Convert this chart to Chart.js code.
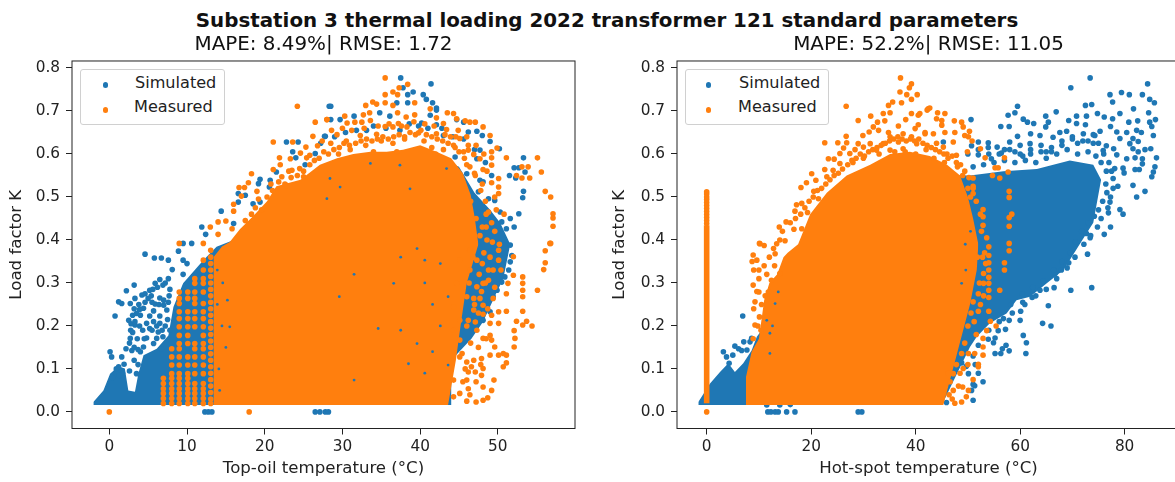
<!DOCTYPE html>
<html>
<head>
<meta charset="utf-8">
<script src="https://cdn.jsdelivr.net/npm/chart.js@4"></script>
<style>
  html, body { margin: 0; padding: 0; background: #fff; overflow: hidden; width: 1175px; height: 482px; }
  body { position: relative; font-family: "DejaVu Sans", sans-serif; color: #111; }
  canvas { position: absolute; top: 0; }
  #suptitle { position: absolute; left: 0; width: 1214px; top: 10px; text-align: center; font-weight: bold; font-size: 19.85px; line-height: 22px; white-space: nowrap; }
  .legend { position: absolute; top: 69px; height: 54px; border: 1px solid #d0d0d0; border-radius: 3px; background: #fff; box-sizing: content-box; }
  .legend span { position: absolute; font-size: 16.1px; line-height: 20px; color: #222; white-space: nowrap; }
  .legend i { position: absolute; width: 5.6px; height: 5.6px; border-radius: 50%; }
</style>
</head>
<body>
<div id="suptitle">Substation 3 thermal loading 2022 transformer 121 standard parameters</div>
<canvas id="topOilChart" width="648" height="482" style="left:0"></canvas>
<canvas id="hotSpotChart" width="650" height="482" style="left:603px"></canvas>
<div class="legend" id="legend1" style="left:80px;width:143px"></div>
<div class="legend" id="legend2" style="left:685px;width:142px"></div>

<script>
const seriesNames = ["Simulated", "Measured"];
const seriesColors = ["#1f77b4", "#ff7f0e"];
const yTicks = [0, 0.1, 0.2, 0.3, 0.4, 0.5, 0.6, 0.7, 0.8];
const topOilXTicks = [0, 10, 20, 30, 40, 50];
const hotSpotXTicks = [0, 20, 40, 60, 80];

// top-oil panel: outline of the solid blue mass
const topOilSimTop = [[-2.05,.023],[-.76,.05],[.1,.089],[1.17,.106],[2,.101],[2.45,.05],[3.3,.047],[3.74,.089],[4.4,.132],[6.1,.147],[7.6,.178],[8.25,.244],[9.5,.299],[10.8,.326],[12.1,.353],[13.8,.384],[16,.4],[20,.47],[25,.53],[30,.585],[35,.6],[40,.61],[45,.57],[47,.51],[49,.47],[50.3,.44],[51.6,.39]];
const topOilSimBottom = [[-2.05,.016],[44,.016],[44,.12],[46.6,.17],[48.1,.21],[49.9,.28],[50.7,.31],[51.6,.39]];
const topOilSimPoints = [[28.3,.711],[22.8,.628],[24.3,.628],[27.8,.641],[23.6,.605],[24,.591],[26.5,.601],[20.7,.539],[19.4,.541],[19.2,.531],[16.6,.508],[20.6,.523],[17.5,.504],[16.6,.488],[14.4,.467],[11.9,.43],[12.4,.413],[16,.438],[18.5,.484],[19.4,.488],[21.5,.558],[25.2,.575],[9.5,.392],[10.6,.392],
  [4.6,.367],[5.8,.358],[6.7,.358],[7.6,.353],[8.9,.374],[10,.345],[9.5,.353],[8.1,.331],[9.5,.32],[3.2,.295],[2.2,.282],[1.2,.256],[1.6,.252],[.74,.223],[2.7,.252],[3.3,.264],[4.2,.272],[5.2,.283],[5.9,.299],[6.5,.308],[7.6,.31],[5,.264],[5.9,.251],[7,.248],[7.4,.237],[4.4,.241],[3.5,.229],[4,.225],[5.2,.223],[6.5,.223],[2.5,.213],[4.8,.206],[6.5,.206],[3.3,.202],[2.75,.19],[5.2,.194],[6.3,.186],[2.7,.171],[4.8,.172],[6.1,.171],[2.15,.147],[2.9,.143],[.1,.14],[.3,.128],[1.6,.128],[1.9,.111],[1.2,.105],[3.5,.089],[4.4,.151],[5.7,.159],[6.7,.147],
  [5.6,.285],[6.2,.29],[6.9,.295],[7.2,.3],[4.6,.275],[5.4,.27],[4.6,.255],[5.5,.255],[3.8,.25],[3.2,.24],[3.9,.238],[6.5,.265],[7,.26],[7.6,.255],[7.7,.27],[7.8,.285],[6.4,.25],[5.7,.235],[3,.225],[2.8,.205],[3,.185],[2.6,.16],[3.2,.15],[3.7,.145],[4,.14],[3.2,.12],[2.6,.095],[1.7,.09],[1.3,.085],[.9,.1],[.4,.08],[3.7,.11],[7.2,.2],[7.5,.215],[7.8,.19],[6.9,.175],[5.5,.19],[5.7,.21],[4.3,.19],[4.5,.17],[3.6,.17],[3.9,.2],[3.3,.21],[6.8,.19],[6.1,.2],
  [12.3,0],[12.75,0],[13.2,0],[26.5,0],[27.1,0],[27.8,0],[28.2,0],
  [37.5,.777],[41.4,.763],[37.8,.754],[39.1,.744],[40.4,.738],[38.4,.738],[40.8,.727],[37,.719],[38.4,.719],[41.6,.719],[42.1,.707],[42.1,.702],[28.5,.711],[34.8,.696],[41.3,.69],[31.5,.688],[29.7,.68],[28.5,.68],[36.1,.688],[40.2,.672],[42.1,.668],[44.7,.68],[45.6,.674],[46.2,.651],[47.3,.653],[48,.643],[49,.629],[50.2,.612],[47.7,.609],[53.3,.591],[52.1,.568],[52.7,.568],[53.5,.558],[51.5,.55],[52.3,.544],[53.3,.513],[53.2,.498],[52.7,.461],[52.1,.43],[27.7,.641],[33.1,.655],[37.4,.655],[43,.643],[47.7,.539],[48.1,.535],[47.3,.589],[44.5,.593],[43.3,.566],[46,.554],[48.8,.496],[49.6,.492],[50.3,.465],[51.1,.426],[50.5,.442],[51.6,.45],[46.9,.458],[47.5,.512],
  [51.6,.388],[51.8,.364],[51.6,.349],[51.4,.33],[50.9,.314],[50.5,.302],[49.9,.283],[49.4,.268],[49,.233],[48.1,.213],
  [27.2,.625],[29,.64],[30.4,.65],[31.8,.655],[34,.665],[35.6,.66],[38.6,.67],[39.8,.665],[41,.66],[42.8,.66],[44.2,.64],[45.6,.635],[47,.61],[48.4,.58],[49.2,.55]];
// top-oil panel: outline of the solid orange mass
const topOilMeasuredTop = [[13.4,.36],[14.5,.385],[15.5,.395],[16.8,.425],[18.5,.455],[20.3,.49],[21.5,.525],[24.6,.54],[27.1,.575],[29.3,.59],[31.4,.6],[33.6,.605],[35.7,.605],[37.8,.61],[40,.62],[42.1,.605],[44,.59],[45.5,.555],[46.5,.505],[47,.455],[47.5,.39]];
const topOilMeasuredBottom = [[13.4,.016],[43.6,.016],[44.6,.12],[45.2,.2],[46,.3],[47.5,.39]];
// vertical runs of readings at the low-temperature edge
const topOilColumnX = [6.96, 8.03, 9, 10.1, 11, 12.1, 13.05];
const topOilColumnY = [
  [.078,.066,.054,.043,.031,.0195],
  [.147,.128,.109,.089,.078,.066,.054,.043,.031,.0195],
  [.279,.264,.252,.233,.217,.198,.178,.159,.147,.128,.109,.089,.078,.066,.054,.043,.031,.0195],
  [.279,.264,.233,.217,.198,.178,.159,.128,.109,.089,.078,.066,.054,.043,.031,.0195],
  [.31,.299,.279,.264,.252,.233,.217,.198,.159,.147,.128,.109,.089,.066,.054,.043,.031,.0195],
  [.353,.33,.31,.299,.279,.252,.233,.217,.198,.178,.159,.147,.128,.109,.089,.066,.054,.043,.031,.0195],
  [.376,.36,.345,.33,.315,.3,.285,.27,.255,.24,.225,.21,.195,.18,.165,.15,.135,.12,.105,.09,.075,.06,.045,.03,.0195]
];
const topOilMeasuredPoints = [[0,0],[18,0],[24.2,.711],[26.5,.674],[28,.68],[26.2,.641],[21.1,.628],[23.6,.628],[25.3,.616],[26.8,.619],[24.6,.602],[21.9,.591],[23.3,.589],[25.8,.597],[25.4,.591],[22,.575],[21.1,.564],[23.1,.56],[23.5,.562],[18.3,.554],[17.9,.533],[16.7,.522],[17.4,.522],[19,.513],[17,.502],[16,.483],[16,.467],[14,.442],[15,.444],[13,.43],[14,.413],[15.8,.426],[9,.392],[12.1,.392],[22.2,.547],[24.5,.566],[22.8,.527],[25,.547],
  [56.7,.392],[56.1,.375],[56.1,.347],[55.9,.331],[55.1,.283],[53.2,.314],[53.2,.299],[53.2,.283],[53.2,.268],[51.1,.234],[53.2,.234],[52.4,.211],[53.7,.211],[53.2,.202],[54.4,.2],[52.1,.189],[52.2,.171],[52.1,.151],[50.1,.233],[50.1,.206],[51.1,.275],[51.3,.299],[50.1,.132],[50.7,.136],[51.1,.132],[51.1,.114],[50.7,.105],[49.5,.074],[49.2,.05],[48.7,.033],[48.1,.027],[47.2,.023],[46,.025],[48.1,.058],[47.2,.07],[46,.074],[46.2,.054],[47.9,.085],[48.1,.101],[47.1,.093],[46.2,.093],[46,.116],[46.9,.12],[47.9,.124],[49,.132],[49.6,.151],[49,.178],[49.2,.167],[48.1,.171],[47.3,.19],[49,.206],[49.2,.225],[48.1,.227],[46.9,.237],[46.2,.213],[47.1,.209],[48.1,.248],[49.4,.264],[47.7,.264],[46.9,.264],[48.1,.299],[48.8,.306],[48.8,.33],[50.1,.353],[50.1,.376],[49.4,.33],[52,.318],[52,.361],[47.3,.353],[46.4,.33],[46.4,.376],[47.3,.291],[46,.268],[45.1,.213],[45.1,.167],[45.4,.136],[44.3,.074],[44.3,.035],[45.1,.043],[45.1,.128],[44.3,.19],[44.3,.244],[44.7,.299],[45.1,.353],
  [55.1,.591],[55.6,.558],[56.1,.513],[56.8,.5],[57.1,.461],[57.1,.451],[57.1,.432],[56.8,.392],[53.9,.57],[54.1,.544],[53.1,.57],[53.1,.544],[52.4,.55],[51.1,.591],[49.9,.614],[49.2,.605],[49.2,.591],[49.2,.574],[49.2,.533],[50.1,.543],[50.1,.523],[50.1,.508],[48.1,.564],[45.6,.605],[46.2,.609],[46.9,.599],[47.7,.589],[49,.643],[48.1,.663],[47.1,.674],[46.4,.674],[45.8,.677],[44.7,.682],[43.5,.696],[44.3,.694],[43,.671],[42.1,.684],[41.3,.705],[39.3,.719],[38.4,.762],[37.3,.754],[35.5,.777],[36.5,.744],[37.1,.738],[35.5,.738],[35.5,.719],[36.5,.713],[33.9,.721],[34.4,.716],[33,.713],[33.5,.696],[32.7,.691],[33.6,.678],[30.3,.688],[28,.68],[30.6,.672],[31.6,.674],[32.5,.674],[37.1,.696],[38.2,.686],[39.3,.691],[37.2,.671],[36.5,.663],[35.5,.664],[38.3,.663],[29.3,.645],[32.3,.643],[34.4,.646],[39.8,.649],[42.1,.647],[43.4,.657],[44.9,.655],[43.9,.64],[45.1,.636],[46.2,.62],
  [28.5,.625],[30.5,.63],[31,.61],[33,.62],[35,.63],[36.5,.625],[38,.635],[40.5,.63],[41.5,.615],[43,.61],[44.5,.615],[46,.575],[47,.555],[48,.53],[46.5,.49],[47.2,.45],[48,.43],[48.5,.46],[29.5,.6],[34,.605],[37,.605],[42,.6],
  [17.5,.445],[18.3,.46],[18.8,.475],[19.6,.47],[20.3,.5],[21,.515],[19.2,.495],[20.8,.53],[21.8,.535],[22.6,.53],[23.4,.545],[24.2,.55],[25,.56],[25.8,.575],[26.4,.585],[27,.59],[27.6,.605],[28.2,.6],[28.9,.61],[29.6,.615],[30.2,.625],[30.9,.62],[31.7,.625],[32.4,.63],[33.1,.635],[33.8,.63],[34.5,.635],[35.2,.64],[35.9,.635],[36.6,.64],[37.3,.645],[38,.64],[38.7,.65],[39.4,.645],[40.1,.655],[40.8,.645],[41.5,.64],[42.2,.635],[42.9,.63],[43.6,.625],[44.3,.62],[45,.605],[45.7,.59],[46.4,.57],[47.1,.55],[47.8,.515],[48.4,.49],[48.8,.465],[49.2,.44],[49.6,.42],[48.6,.4],[49.3,.395],[50.2,.39],[48.2,.37],[49,.36],[50.4,.33],[48,.345],[47.6,.32],[48.4,.3],[49.6,.29],[47.9,.28],[47,.25],[48.7,.24],[47.5,.23],[46.5,.16],[47.5,.15],[48.5,.17],[46.6,.105],[47.8,.11],[46.4,.04],[45.8,.1],[46,.2],[45.5,.07],[46.3,.3],[46.8,.36],[47.7,.41],[48.5,.43],
  [27.4,.63],[28.6,.655],[30,.66],[31.2,.655],[32.8,.66],[34.6,.665],[36,.67],[37.6,.665],[39.2,.675],[40.6,.67],[41.8,.665],[43.2,.645],[44.6,.64],[46,.64],[47.2,.62],[48.2,.6],[48.6,.56],[49.6,.5],[50.8,.46],[49.8,.47]];
const topOilSpecks = [[33.6,.578],[38.7,.519],[43.4,.566],[37.4,.574],[28.4,.543],[29.7,.523],[28,.496],[31.5,.32],[29.6,.268],[37.5,.36],[39.6,.38],[40.6,.353],[42.6,.345],[36.6,.299],[34.6,.194],[37.5,.19],[39.6,.159],[38.5,.112],[31.5,.074],[43.6,.268],[43.6,.109],[15.5,.198],[40.6,.3],[41.6,.25],[42.6,.2],[41.6,.14],[40.6,.09],[14.1,.1],[14.5,.2],[14.6,.3],[14.2,.05],[15,.15],[15.2,.26],[13.9,.25],[13.9,.33]];

// hot-spot panel
const hotSpotSimTop = [[-1.6,.023],[.64,.066],[2.55,.093],[4.15,.113],[5.4,.093],[7,.113],[8.6,.143],[9.6,.175],[11.5,.206],[12.8,.244],[14,.299],[15,.36],[17.5,.37],[25,.48],[35,.55],[45,.55],[50.4,.55],[56.8,.56],[63.2,.565],[69.5,.585],[74,.575],[75.5,.54]];
const hotSpotSimBottom = [[-1.6,.016],[45,.016],[50.4,.151],[51.7,.175],[54.2,.206],[57.4,.229],[59.3,.26],[61.9,.268],[65.1,.299],[68.3,.33],[71.4,.39],[74,.44],[75.5,.54]];
const hotSpotSimPoints = [[73.4,.777],[84.4,.763],[69.7,.754],[77.2,.738],[79.4,.743],[80.9,.738],[83.4,.738],[84.8,.727],[85.7,.719],[77.7,.721],[72.5,.713],[73.7,.715],[81.7,.705],[59.5,.711],[59,.696],[57.7,.69],[66.9,.698],[74.8,.694],[79.1,.694],[84.6,.696],[85.9,.68],[76.1,.686],[77.7,.682],[69.3,.678],[70.8,.688],[72.7,.688],[64.9,.688],[50.6,.68],[60.6,.681],[61.4,.674],[62.6,.671],[65.4,.674],[80.8,.674],[82.5,.677],[84.8,.674],[56.3,.664],[57.9,.664],[64.9,.663],[70.8,.671],[72.5,.668],[77.3,.664],[85.2,.664],[82.3,.655],[83.2,.65],[78.5,.651],[80.4,.65],[85.5,.643],[59.5,.641],[62,.647],[75.3,.653],[74,.645],[68.9,.653],[79.1,.636],[81.6,.636],[82.6,.629],[76.5,.619],[77.9,.612],[81,.624],[81.6,.612],[85,.612],[83.9,.61],[86.1,.591],[82.6,.605],[80.4,.589],[78.5,.598],[82,.591],[83.4,.589],[83.4,.577],[85.8,.57],[85.5,.558],[85.2,.547],[82,.564],[82.8,.564],[79.7,.567],[79.9,.556],[78.1,.566],[81.6,.527],[83.9,.513],[82.3,.5],[78.7,.525],[79.1,.471],[79.7,.46],[76.9,.463],[77.3,.43],[76.1,.413],[77.2,.488],[77.8,.543],[72.7,.415],[73.4,.405],
  [52,.628],[53.9,.626],[55.6,.616],[56.4,.602],[53.9,.615],[52,.598],[50.7,.619],[45.3,.628],[54.5,.589],[58,.628],[60,.62],[61.9,.624],[63.8,.643],[66.3,.639],[67.6,.65],[72.1,.647],[75.9,.608],[74.3,.643],[57,.61],[59,.605],[62,.61],[64,.62],[66,.615],[68,.63],[70,.64],[71,.625],[73,.63],[75,.625],[65,.605],[60.5,.595],
  [72.9,.367],[73.7,.289],[69.7,.283],[66.5,.289],[63.8,.283],[62.3,.266],[69.3,.347],[65.4,.247],[60.9,.25],[60.1,.234],[60,.213],[64.3,.206],[65.9,.2],[57.2,.192],[60.6,.178],[61.2,.161],[61.1,.136],[57.9,.142],[57.3,.155],[56.3,.136],[55.2,.136],[56.6,.147],[55.2,.172],[54.9,.161],[55.8,.189],[53.9,.169],[57.9,.213],[56.8,.217],[52.9,.07],[51,.027],[51.3,.061],[50.7,.05],[50.1,.089],[49.7,.106],[45.9,.022],[51,.064],[48.8,.114],[48.8,.299],[67.9,.33],[66.7,.322],
  [11.7,0],[12.3,0],[13.1,0],[13.7,0],[15.3,0],[16.9,0],[29,0],[29.7,0],[11.5,.016],[14,.016],[16,.017],
  [50,.6],[52,.61],[54,.6],[56,.6],[58,.61],[60,.6],[62,.6],[64,.605],[66,.605],[68,.62],[70,.635],[72,.63],[74,.625],[76,.6],[77,.58],[77.5,.56],[77.8,.52],[77.3,.5],[76.8,.475],[75.5,.45],[74.8,.43],[73.5,.41],[72.2,.39],[70.5,.36],[69,.335],[67,.31],[65,.285],[63,.27],[60.5,.255],[58.5,.23],[56,.21],[54,.19],[52,.155],[51,.13],[51.4,.11],[52,.09],
  [6.9,.223],[3.2,.14],[3.8,.128],[5,.132],[5.4,.153],[6.1,.147],[7.1,.163],[8.3,.163],[8.6,.171],[7.7,.144],[4.3,.113],[6.7,.143],
  [51,.57],[53,.575],[55,.58],[57,.585],[59,.58],[61,.585],[63,.58],[65,.59],[67,.6],[69,.61],[71,.6],[73,.605],[74.5,.595],[75.5,.58],[76.5,.56],[76.4,.53],[76.6,.51],[75.8,.49],[75,.47],[74.2,.455],[73,.44],[71.8,.42],[70.6,.395],[69.6,.37],[68,.35],[66.4,.33],[64.4,.305],[62.4,.29],[60.4,.275],[58.2,.25]];
const hotSpotMeasuredTop = [[7.5,.08],[8.6,.14],[10,.17],[11,.26],[12,.3],[13.5,.32],[14.7,.36],[15.5,.37],[17.5,.39],[19.8,.46],[23,.51],[26.8,.55],[31.3,.575],[35.1,.6],[38.9,.605],[42.7,.595],[46,.575],[48.5,.55],[50,.5],[51,.45],[52,.39]];
const hotSpotMeasuredBottom = [[7.5,.016],[45.3,.016],[47.8,.13],[50.4,.25],[51.7,.33],[52,.39]];
const hotSpotZeroLine = [[0,.02],[0,.434]];
const hotSpotMeasuredPoints = [[0,0],[0,.438],[0,.445],[0,.452],[0,.459],[0,.466],[0,.473],[0,.48],[0,.487],[0,.494],[0,.5],[0,.507],[0,.512],
  [37.1,.777],[39.2,.763],[38.8,.754],[37,.744],[38.3,.738],[40.3,.738],[39.2,.727],[37.3,.719],[35.6,.721],[34.8,.713],[26.7,.711],[42.4,.705],[33.8,.694],[35.1,.696],[39.2,.694],[40.5,.69],[31.4,.688],[29,.678],[34.1,.677],[32.7,.674],[38.1,.68],[36.7,.665],[31.9,.663],[40.5,.668],[39.9,.659],[31.1,.651],[32.9,.655],[34.8,.65],[29.9,.643],[26.7,.641],[35.1,.64],[37.6,.647],[39.2,.64],[41.8,.647],[22.6,.626],[25.1,.626],[26.8,.626],[29,.624],[31.3,.624],[33.8,.624],[36.7,.628],[40.2,.624],[26.2,.614],[28.4,.61],[30,.616],[32.5,.609],[25.5,.601],[23.3,.589],[24.4,.588],[27.4,.601],[35.1,.609],[37.6,.612],[22.6,.564],[24.2,.562],[25.5,.578],[20.1,.554],[19.1,.533],[20.9,.539],[23,.547],[18.05,.522],[20.5,.513],[21.4,.496],[18.2,.485],[17.2,.482],[16.9,.467],[19.3,.464],[15.2,.442],[13.9,.43],[16.7,.425],[18.2,.426],[15,.398],[10.2,.391],[13.4,.391],[11,.387],
  [42.7,.707],[42.2,.702],[44.2,.696],[45.6,.694],[40.8,.694],[44,.682],[45,.678],[47.4,.677],[48.8,.674],[45,.667],[49.1,.663],[50.3,.653],[41.8,.65],[43.4,.647],[45.6,.65],[47.5,.65],[49.4,.643],[50.1,.64],[50.8,.63],[52.4,.612],[49.9,.605],[47.2,.628],[45.3,.616],[47.8,.597],[53.3,.591],[57,.591],[55.2,.568],[55.8,.568],[54.7,.55],[57.7,.558],[56.1,.544],[51,.544],[51,.525],[51,.508],[57.9,.513],[57.9,.499],[58.4,.46],[57.9,.452],[57.9,.432],[57.9,.392],[52.9,.471],[52.9,.454],[52.9,.434],[53.6,.405],
  [57.9,.375],[57,.347],[57,.33],[56.1,.283],[54,.384],[54,.364],[54,.347],[54,.33],[54,.313],[54,.299],[54,.283],[54,.266],[54,.234],[53,.322],[53,.299],[52,.275],[52,.234],[51,.256],[54.3,.211],[55.4,.2],[53.6,.189],[52.9,.171],[52.9,.151],[52.9,.132],[52,.111],[52,.105],[51.3,.136],[51,.075],[49,.058],[50.1,.05],[49.7,.035],[48.8,.023],[47.5,.02],[47.2,.05],[46.6,.07],[47.2,.089],[49.1,.101],[50.1,.136],[48.8,.136],
  [10.1,.392],[8.9,.365],[9.6,.353],[8.9,.295],[10,.279],[9.25,.256],[10.1,.221],[9.25,.202],[12.4,.306],[11.8,.279],[13.1,.368],[14,.322],[10.5,.25],[11.2,.27],
  [44,.625],[46,.6],[42,.61],[40,.6],[38,.605],[36,.605],[33,.6],[30,.59],[28,.58],[48,.57],[49,.55],[50,.52],[43.5,.59],[45.5,.58],
  [14.5,.42],[16,.44],[17,.45],[18,.46],[18.8,.475],[19.6,.49],[20.4,.5],[21.2,.515],[22,.52],[22.8,.53],[23.6,.54],[24.4,.55],[25.2,.555],[26,.565],[27,.575],[27.8,.585],[28.6,.59],[29.4,.6],[30.2,.595],[31,.605],[31.8,.61],[32.6,.615],[33.4,.62],[34.2,.625],[35,.63],[35.8,.635],[36.6,.64],[37.4,.635],[38.2,.63],[39,.635],[39.8,.63],[40.6,.635],[41.4,.625],[42.2,.62],[43,.615],[43.8,.61],[44.6,.605],[45.4,.6],[46.2,.59],[47,.595],[47.8,.58],[48.6,.575],[49.4,.56],[50.2,.545],[51,.52],[50.5,.5],[51.6,.49],[52.4,.46],[52.6,.42],[53.2,.37],[53.4,.345],[52.8,.36],[53,.27],[52.2,.3],[51.8,.36],[52.4,.25],[51.2,.21],[51.6,.18],[50,.2],[50.6,.23],[49.4,.16],[50,.11],[48.5,.09],[48.2,.06],[47,.03],[46.4,.04],[46.2,.09],[47.8,.11],
  [9,.33],[10,.33],[11,.34],[12,.36],[12.8,.38],[14,.4],[13,.34],[11.5,.32],[10,.31],[8.7,.35],[9.6,.28],[9,.24],[9.8,.2],[8.9,.17],[10.4,.19]];
const hotSpotSpecks = [[12.1,.183],[13.1,.252],[13.7,.279],[11.5,.213],[12.1,.136],[12.6,.2],[48.8,.299],[49.5,.39],[50.5,.42],[49.6,.33]];

const axisColor = "#222";
const tickFont = { family: "DejaVu Sans", size: 15.3 };
const labelFont = { family: "DejaVu Sans", size: 16.6 };

const toXY = list => list.map(([x, y]) => ({ x, y }));

// matplotlib style closed frame
const framePlugin = {
  id: "frame",
  afterDraw(chart) {
    const { ctx, chartArea: a } = chart;
    ctx.save();
    ctx.strokeStyle = axisColor;
    ctx.lineWidth = 1;
    ctx.strokeRect(a.left, a.top, a.right - a.left, a.bottom - a.top);
    ctx.restore();
  }
};

function makeChart(id, p) {
  const points = (data, color, order, radius) => ({
    data: toXY(data), showLine: false, pointRadius: radius, pointHoverRadius: radius,
    pointBorderWidth: 0, pointBackgroundColor: color, backgroundColor: color, order
  });
  const outline = (data, color, order, fill) => ({
    data: toXY(data), showLine: true, pointRadius: 0, borderWidth: 0, borderColor: color,
    backgroundColor: color, fill, order, tension: 0
  });

  const datasets = [
    outline(p.simTop, seriesColors[0], 10, 1),
    outline(p.simBottom, seriesColors[0], 10, false),
    points(p.simPoints, seriesColors[0], 9, 2.8),
    outline(p.measuredTop, seriesColors[1], 8, 4),
    outline(p.measuredBottom, seriesColors[1], 8, false),
    points(p.specks, seriesColors[0], 7, 1.4),
    points(p.measuredPoints, seriesColors[1], 6, 2.8)
  ];
  if (p.zeroLine) {
    datasets.push({ data: toXY(p.zeroLine), showLine: true, pointRadius: 0, borderWidth: 5.6, borderColor: seriesColors[1], order: 5, fill: false });
  }

  return new Chart(document.getElementById(id), {
    type: "scatter",
    data: { datasets },
    options: {
      responsive: false,
      animation: false,
      events: [],
      layout: { padding: { left: 0, right: 73, top: 0, bottom: 0 } },
      plugins: {
        legend: { display: false },
        tooltip: { enabled: false },
        filler: { drawTime: "beforeDatasetDraw" },
        title: {
          display: true, text: p.title, color: "#111", fullSize: false,
          font: { family: "DejaVu Sans", size: 19.9, weight: "normal", lineHeight: 1.14 },
          padding: { top: 33.5, bottom: 4.8 }
        }
      },
      scales: {
        x: {
          type: "linear", min: p.xMin, max: p.xMax,
          afterBuildTicks: s => { s.ticks = p.xTicks.map(value => ({ value })); },
          afterFit: s => { s.height = 53.5; },
          ticks: { color: axisColor, font: tickFont, padding: 3, maxRotation: 0, autoSkip: false },
          grid: { drawOnChartArea: false, drawTicks: true, tickLength: 6, color: axisColor },
          border: { display: false },
          title: { display: true, text: p.xTitle, color: axisColor, font: labelFont, padding: { top: 0, bottom: 3 } }
        },
        y: {
          type: "linear", min: -0.0386, max: 0.8163,
          afterBuildTicks: s => { s.ticks = yTicks.map(value => ({ value })); },
          afterFit: s => { s.width = p.yWidth; },
          ticks: { color: axisColor, font: tickFont, padding: 6, autoSkip: false, callback: v => v.toFixed(1) },
          grid: { drawOnChartArea: false, drawTicks: true, tickLength: 6, color: axisColor },
          border: { display: false },
          title: { display: true, text: "Load factor K", color: axisColor, font: labelFont, padding: { top: 7, bottom: 0 } }
        }
      }
    },
    plugins: [framePlugin]
  });
}

makeChart("topOilChart", {
  title: "MAPE: 8.49%| RMSE: 1.72", xTitle: "Top-oil temperature (°C)",
  xMin: -4.8, xMax: 59.93, xTicks: topOilXTicks, yWidth: 72,
  simTop: topOilSimTop, simBottom: topOilSimBottom, simPoints: topOilSimPoints,
  measuredTop: topOilMeasuredTop, measuredBottom: topOilMeasuredBottom,
  measuredPoints: topOilMeasuredPoints.concat(topOilColumnX.flatMap((x, i) => topOilColumnY[i].map(y => [x, y]))),
  specks: topOilSpecks
});

makeChart("hotSpotChart", {
  title: "MAPE: 52.2%| RMSE: 11.05", xTitle: "Hot-spot temperature (°C)",
  xMin: -5.68, xMax: 90.6, xTicks: hotSpotXTicks, yWidth: 74,
  simTop: hotSpotSimTop, simBottom: hotSpotSimBottom, simPoints: hotSpotSimPoints,
  measuredTop: hotSpotMeasuredTop, measuredBottom: hotSpotMeasuredBottom,
  measuredPoints: hotSpotMeasuredPoints, specks: hotSpotSpecks, zeroLine: hotSpotZeroLine
});

// legend boxes
function fillLegend(id, markerX, textX) {
  const box = document.getElementById(id);
  seriesNames.forEach((name, i) => {
    const top = i === 0 ? 3 : 27;
    const dotTop = i === 0 ? 12.2 : 37.2;
    box.innerHTML += `<i style="left:${markerX}px;top:${dotTop}px;background:${seriesColors[i]}"></i>` +
      `<span style="left:${textX[i]}px;top:${top}px">${name}</span>`;
  });
}
fillLegend("legend1", 21.5, [54, 53]);
fillLegend("legend2", 19.5, [53, 52]);
</script>
</body>
</html>
